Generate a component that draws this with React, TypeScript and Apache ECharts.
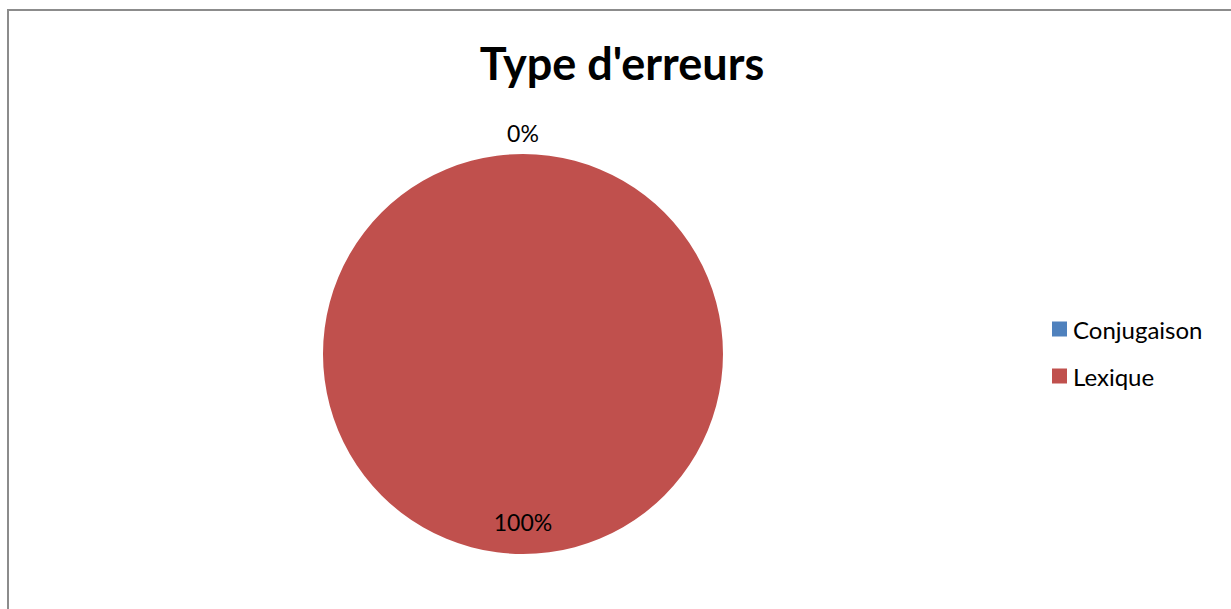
import React, { useEffect, useRef } from "react";
import * as echarts from "echarts";

const categories = ["Conjugaison", "Lexique"];
const values = [0, 100];
const colors = ["#4F81BD", "#C0504D"];
const titleText = "Type d'erreurs";

export default function App() {
  const ref = useRef<HTMLDivElement>(null);
  useEffect(() => {
    if (!ref.current) return;
    const chart = echarts.init(ref.current, undefined, { renderer: "svg" });
    const font = "Lato, 'Noto Sans', sans-serif";
    chart.setOption({
      animation: false,
      backgroundColor: "#ffffff",
      title: {
        text: titleText,
        left: 617,
        textAlign: "center",
        top: 35,
        textStyle: { fontFamily: font, fontWeight: "bold", fontSize: 45, color: "#000" },
      },
      legend: {
        orient: "vertical",
        left: 1047,
        top: 312,
        itemWidth: 15,
        itemHeight: 15,
        itemGap: 23,
        icon: "rect",
        selectedMode: false,
        textStyle: { fontFamily: font, fontSize: 24, color: "#000", padding: [0, 0, 0, 1] },
        data: categories,
      },
      graphic: [
        {
          type: "rect",
          shape: { x: 8, y: 10, width: 1400, height: 800 },
          style: { fill: "none", stroke: "#8c8c8c", lineWidth: 2 },
          silent: true,
        },
      ],
      series: [
        {
          type: "pie",
          center: [523, 354],
          radius: 200,
          startAngle: 90,
          clockwise: true,
          stillShowZeroSum: true,
          avoidLabelOverlap: false,
          labelLine: { show: false },
          emphasis: { disabled: true },
          label: {
            show: true,
            position: "inside",
            formatter: "{d}%",
            fontFamily: font,
            fontSize: 23,
            color: "#000",
          },
          data: categories.map((name, i) => ({
            name,
            value: values[i],
            itemStyle: { color: colors[i] },
            label: i === 0 ? { offset: [0, -118] } : { offset: [0, 65] },
          })),
        },
      ],
    });
    return () => chart.dispose();
  }, []);
  return (
    <div
      ref={ref}
      style={{ position: "fixed", left: 0, top: 0, width: 1231, height: 609 }}
    />
  );
}
